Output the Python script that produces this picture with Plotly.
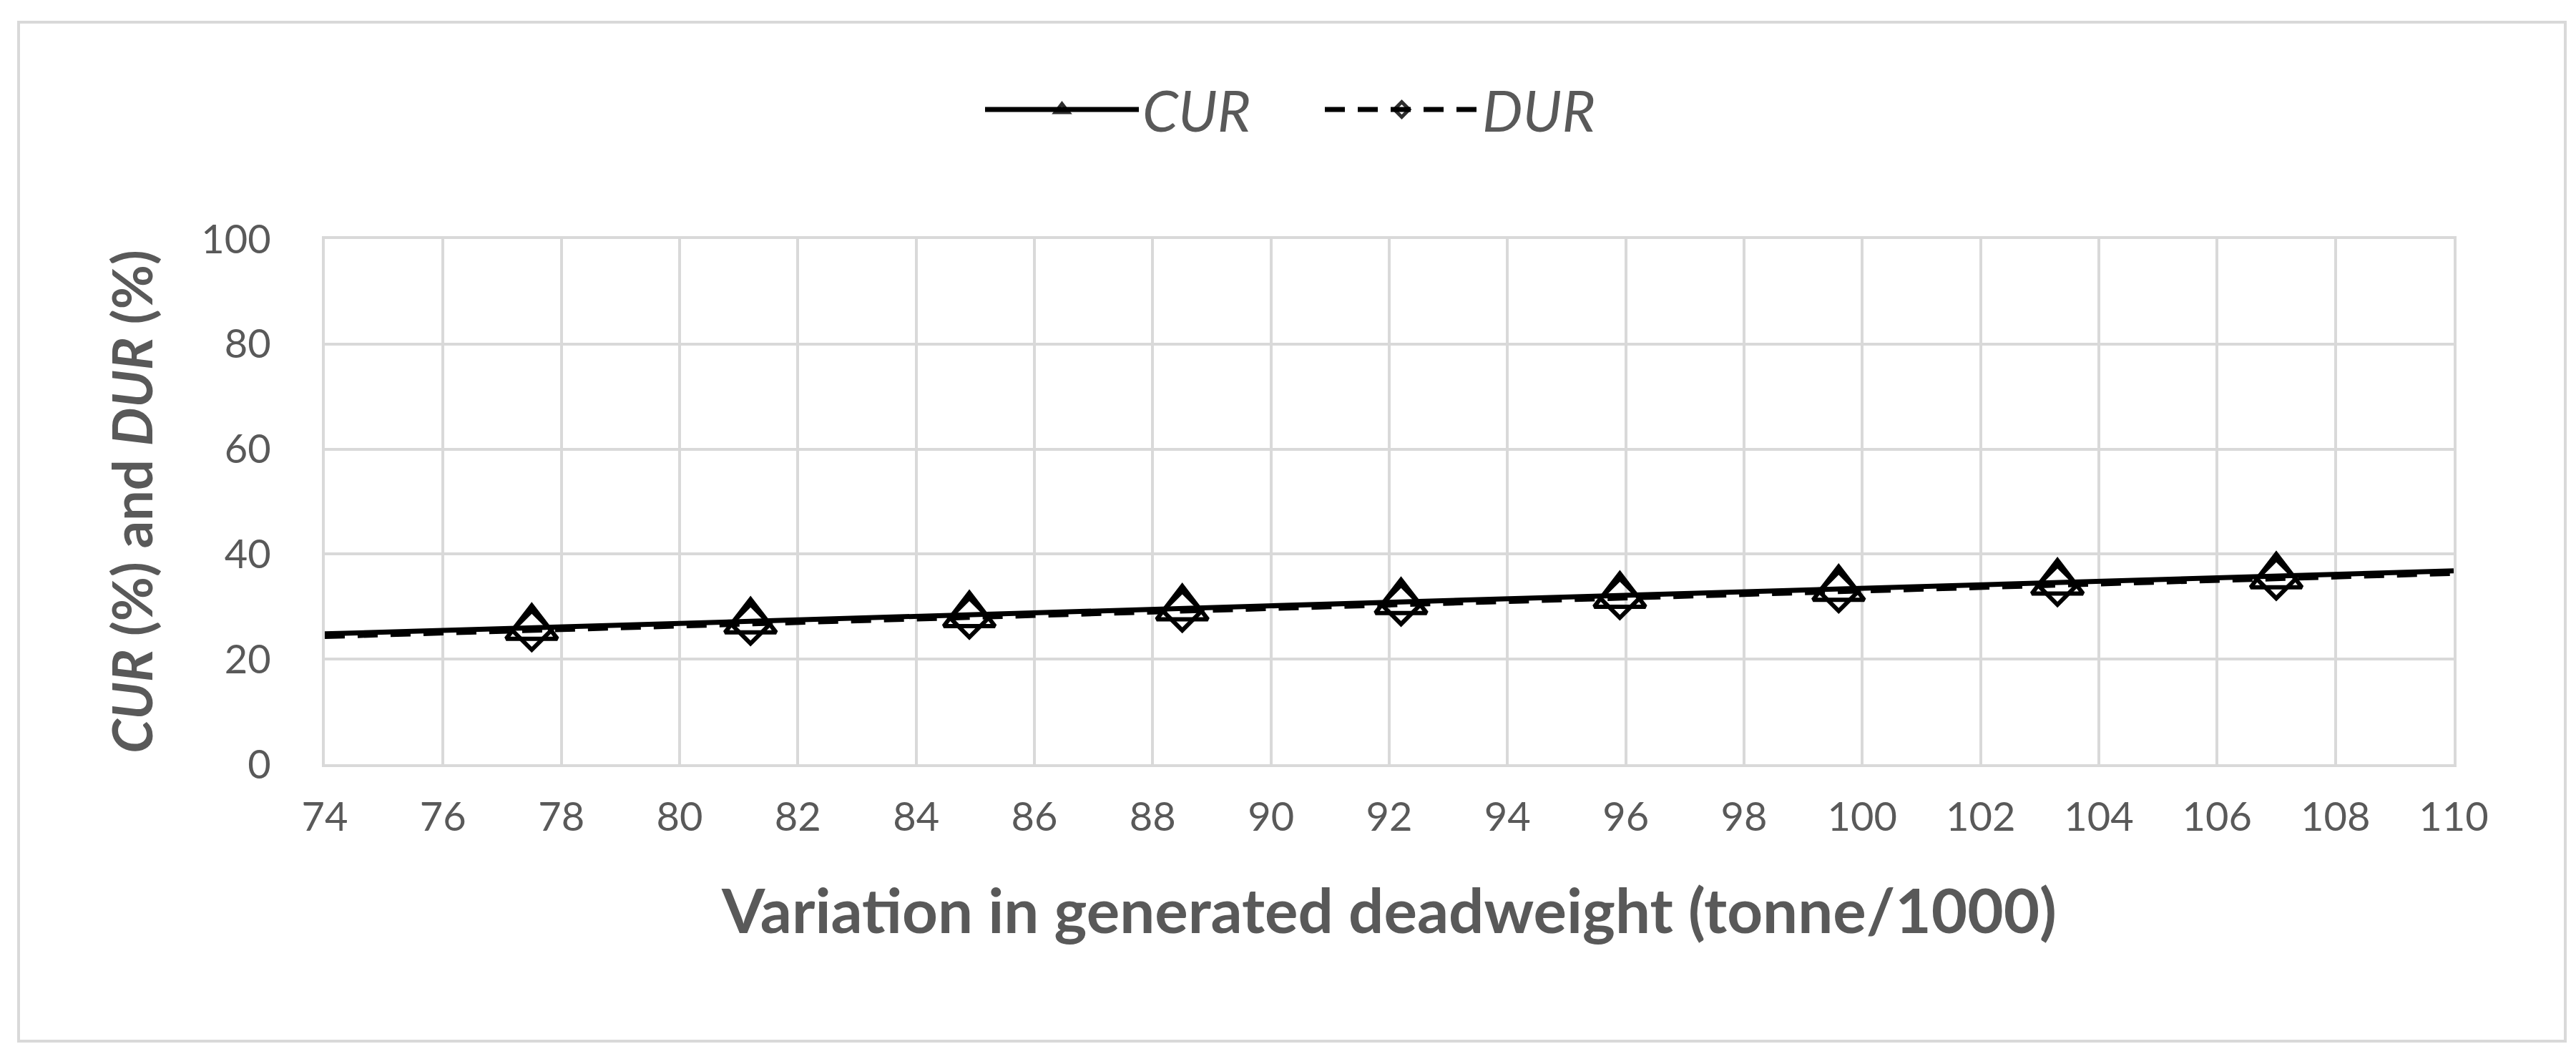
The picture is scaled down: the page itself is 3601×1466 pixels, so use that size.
import numpy as np
import plotly.graph_objects as go

# data
DEADWEIGHT = [77.5, 81.2, 84.9, 88.5, 92.2, 95.9, 99.6, 103.3, 107.0]
CUR = [26.0, 27.2, 28.4, 29.7, 30.9, 32.1, 33.4, 34.6, 35.8]
DUR = [25.5, 26.7, 27.9, 29.2, 30.4, 31.6, 32.9, 34.1, 35.3]

X_RANGE = [74, 110]
Y_RANGE = [0, 100]

W, H = 3601, 1466
PLOT_L, PLOT_R, PLOT_T, PLOT_B = 446, 3422, 326, 1060

TEXT = "#595959"
GRID = "#D9D9D9"
FONT = "Lato, 'Open Sans', sans-serif"


def extended(xs, ys):
    # the series line runs across the whole axis, following the linear trend
    slope, icpt = np.polyfit(xs, ys, 1)
    x_all = [X_RANGE[0]] + list(xs) + [X_RANGE[1]]
    y_all = [slope * X_RANGE[0] + icpt] + list(ys) + [slope * X_RANGE[1] + icpt]
    return x_all, y_all


def series(name, xs, ys, symbol, size, dash):
    x_all, y_all = extended(xs, ys)
    n = len(xs)
    return go.Scatter(
        x=x_all,
        y=y_all,
        mode="lines+markers",
        name=name,
        line={"color": "black", "width": 7, "dash": dash},
        marker={
            "symbol": symbol,
            "size": [0] + [size] * n + [0],
            "opacity": [0] + [1] * n + [0],
            "color": "black",
            "line": {"color": "black", "width": 6},
        },
    )


fig = go.Figure()
fig.add_trace(series("<i>CUR</i>", DEADWEIGHT, CUR, "triangle-up-open", 62, "solid"))
fig.add_trace(series("<i>DUR</i>", DEADWEIGHT, DUR, "diamond-open", 42, "28px,18px"))

# outer chart border
px = lambda v: (v - PLOT_L) / (PLOT_R - PLOT_L)
py = lambda v: (PLOT_B - v) / (PLOT_B - PLOT_T)
fig.add_shape(
    type="rect", xref="paper", yref="paper",
    x0=px(18), x1=px(3578), y0=py(1447), y1=py(23),
    line={"color": GRID, "width": 4}, layer="below",
)

fig.update_layout(
    width=W,
    height=H,
    paper_bgcolor="white",
    plot_bgcolor="white",
    margin={"l": PLOT_L, "r": W - PLOT_R, "t": PLOT_T, "b": H - PLOT_B, "pad": 0},
    font={"family": FONT, "size": 56, "color": TEXT},
    showlegend=True,
    legend={
        "orientation": "h",
        "xref": "container", "yref": "container",
        "x": 1364 / W, "y": 1 - 145 / H,
        "xanchor": "left", "yanchor": "middle",
        "font": {"size": 80, "color": TEXT},
        "itemwidth": 215,
        "entrywidth": 245,
        "entrywidthmode": "pixels",
        "bgcolor": "rgba(0,0,0,0)",
    },
)
fig.update_xaxes(
    range=X_RANGE,
    dtick=2,
    tick0=74,
    showgrid=True,
    gridcolor=GRID,
    gridwidth=4,
    showline=True,
    linecolor=GRID,
    linewidth=4,
    mirror=True,
    zeroline=False,
    ticks="",
    ticklabelstandoff=22,
    tickfont={"size": 56, "color": TEXT},
    title={
        "text": "<b>Variation in generated deadweight (tonne/1000)</b>",
        "font": {"size": 87, "color": TEXT},
        "standoff": 72,
    },
)
fig.update_yaxes(
    range=Y_RANGE,
    dtick=20,
    showgrid=True,
    gridcolor=GRID,
    gridwidth=4,
    showline=True,
    linecolor=GRID,
    linewidth=4,
    mirror=True,
    zeroline=False,
    ticks="",
    ticklabelstandoff=60,
    tickfont={"size": 56, "color": TEXT},
    title={
        "text": "<b><i>CUR</i> (%) and <i>DUR</i> (%)</b>",
        "font": {"size": 76, "color": TEXT},
        "standoff": 44,
    },
)

fig.write_html("out.html")
